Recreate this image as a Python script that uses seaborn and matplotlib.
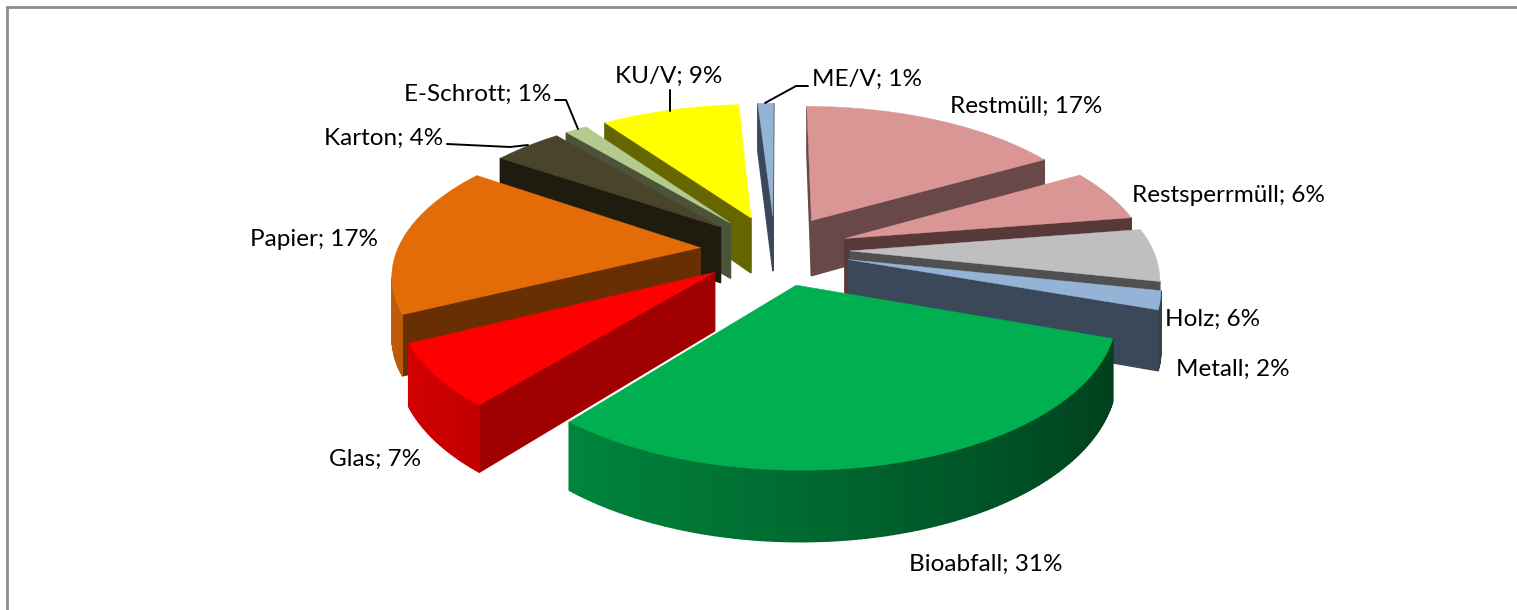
#!/usr/bin/env python3
"""Exploded 3D pie of waste fractions, drawn as projected polygons."""

import numpy as np
import matplotlib
matplotlib.use("Agg")
import matplotlib.pyplot as plt
import seaborn as sns

categories = ["ME/V", "Restmüll", "Restsperrmüll", "Holz", "Metall", "Bioabfall",
              "Glas", "Papier", "Karton", "E-Schrott", "KU/V"]
# unrounded shares, labels show them rounded
shares = [1.0, 16.7, 5.8, 5.8, 2.0, 30.6, 6.8, 16.7, 4.4, 1.4, 8.8]

top_colors = ["#95B3D7", "#D99694", "#D99694", "#BFBFBF", "#95B3D7", "#00B050",
              "#FF0000", "#E36C09", "#4A452A", "#B5CA8F", "#FFFF00"]
cut_colors = ["#3B4859", "#684848", "#57393A", "#505050", "#3B4859", "#00582A",
              "#A00000", "#672F02", "#1E1B0F", "#4B5439", "#666600"]

# label centres and leader lines, in pixels
label_pos = {
    "ME/V": (867, 79), "Restmüll": (1026, 106), "Restsperrmüll": (1228, 195),
    "Holz": (1213, 319), "Metall": (1233, 369), "Bioabfall": (986, 564),
    "Glas": (375, 459), "Papier": (314, 240), "Karton": (384, 138),
    "E-Schrott": (478, 94), "KU/V": (669, 76),
}
leaders = [
    [(808, 86), (796, 86), (765, 103)],
    [(670, 90), (670, 111)],
    [(555, 100), (566, 100), (578, 129)],
    [(447, 144), (510, 147), (528, 145)],
]

# projection of the pie plane
CX, CY = 775, 250
TILT = 0.468
PERSP = 1850
RADIUS = 303
EXPLODE = 75
HEIGHT = 57
START = -3.5

sns.set_style("white")
plt.rcParams["font.family"] = ["Lato", "DejaVu Sans"]


def project(gx, gy):
    """Ground plane to pixels, returns x, y and the perspective scale"""
    s = PERSP / (PERSP + gy)
    return CX + gx * s, CY - TILT * gy * s, s


def slice_outline(a0, a1):
    """Apex and arc of one exploded slice, on the ground plane"""
    mid = np.radians((a0 + a1) / 2)
    ax0, ay0 = EXPLODE * np.sin(mid), EXPLODE * np.cos(mid)
    th = np.radians(np.linspace(a0, a1, max(4, int(a1 - a0))))
    gx = np.r_[ax0, ax0 + RADIUS * np.sin(th)]
    gy = np.r_[ay0, ay0 + RADIUS * np.cos(th)]
    return gx, gy, np.r_[np.nan, th]


def draw_slice(ax, a0, a1, top, cut):
    gx, gy, th = slice_outline(a0, a1)
    x, y, s = project(gx, gy)
    low = y + HEIGHT * s
    n = len(x)
    base = np.array(matplotlib.colors.to_rgb(top))
    for i in range(n):
        j = (i + 1) % n
        if x[j] >= x[i]:
            continue
        if i == 0 or j == 0:
            color = cut
        else:
            # outer wall goes lighter to the left, darker to the right
            color = base * (0.6 - 0.25 * np.sin((th[i] + th[j]) / 2))
        ax.fill([x[i], x[j], x[j], x[i]], [y[i], y[j], low[j], low[i]],
                color=color, lw=1.0, zorder=2)
    ax.fill(x, y, color=top, lw=0.3, zorder=2)


def main():
    fig = plt.figure(figsize=(15.17, 6.10), dpi=100)
    ax = fig.add_axes([0, 0, 1, 1])
    ax.set_xlim(0, 1517)
    ax.set_ylim(610, 0)
    ax.axis("off")

    palette = sns.color_palette(top_colors)
    angles = np.cumsum([0] + shares) / sum(shares) * 360 + START

    # back to front
    mids = (angles[:-1] + angles[1:]) / 2
    order = np.argsort(-np.cos(np.radians(mids)))
    for i in order:
        draw_slice(ax, angles[i], angles[i + 1], palette[i], cut_colors[i])

    for name, share in zip(categories, shares):
        lx, ly = label_pos[name]
        ax.text(lx, ly, f"{name}; {share:.0f}%", ha="center", va="center",
                fontsize=17.5, color="black", zorder=4)

    for pts in leaders:
        xs, ys = zip(*pts)
        ax.plot(xs, ys, color="black", lw=1.4, zorder=3)

    # chart frame, only top and left reach into the crop
    ax.plot([7, 7], [610, 7], color="#8C8C8C", lw=2, zorder=1)
    ax.plot([7, 1517], [7, 7], color="#8C8C8C", lw=2, zorder=1)

    fig.savefig("out.png", dpi=100)
    plt.close(fig)


if __name__ == '__main__':
    main()
